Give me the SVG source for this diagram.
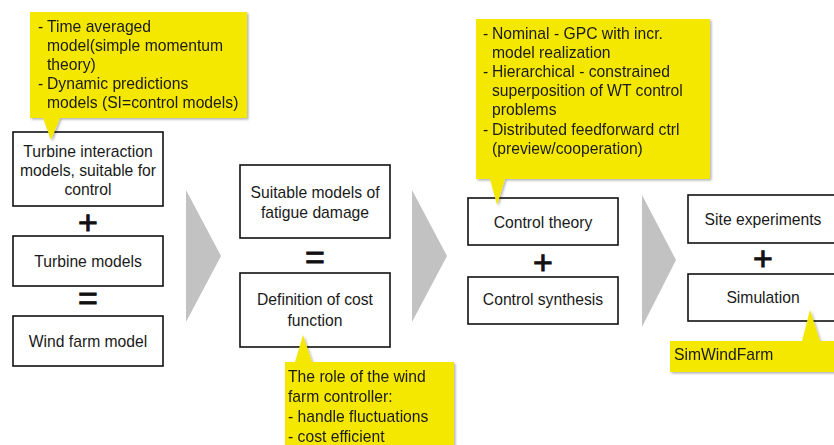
<svg xmlns="http://www.w3.org/2000/svg" width="834" height="445" viewBox="0 0 834 445">
<defs>
<filter id="sh" x="-10%" y="-10%" width="130%" height="130%">
<feDropShadow dx="1.5" dy="1.5" stdDeviation="1.2" flood-color="#000" flood-opacity="0.3"/>
</filter>
<style>
.box{fill:#fff;stroke:#111;stroke-width:1.6}
.t{font-family:"Liberation Sans",Arial,sans-serif;font-size:15.7px;fill:#1a1a1a}
.c{text-anchor:middle}
.op{font-family:"Liberation Sans",Arial,sans-serif;font-size:34px;fill:#111;stroke:#111;stroke-width:0.9;text-anchor:middle}
.y{fill:#F5E800}
.chev{fill:#c2c2c2}
</style>
</defs>
<rect width="834" height="445" fill="#fff"/>

<g id="connectors">
<polygon class="chev" points="186,190 221,256 186,322"/>
<polygon class="chev" points="412,190 447,256 412,322"/>
<polygon class="chev" points="642,195 676,260 642,327"/>
</g>

<g id="n-turbine-interaction">
<rect class="box" x="13" y="132" width="150" height="74"/>
<text class="t c" x="88" y="157">Turbine interaction</text>
<text class="t c" x="88" y="176">models, suitable for</text>
<text class="t c" x="88" y="195">control</text>
</g>
<text class="op" x="88" y="234">+</text>
<g id="n-turbine-models">
<rect class="box" x="13" y="236" width="150" height="50"/>
<text class="t c" x="88" y="267">Turbine models</text>
</g>
<text class="op" x="88" y="310">=</text>
<g id="n-wind-farm-model">
<rect class="box" x="13" y="316" width="150" height="50"/>
<text class="t c" x="88" y="347">Wind farm model</text>
</g>

<g id="n-fatigue">
<rect class="box" x="240" y="165" width="150" height="73"/>
<text class="t c" x="315" y="198">Suitable models of</text>
<text class="t c" x="315" y="218">fatigue damage</text>
</g>
<text class="op" x="315" y="269">=</text>
<g id="n-cost">
<rect class="box" x="240" y="273" width="150" height="74"/>
<text class="t c" x="315" y="305">Definition of cost</text>
<text class="t c" x="315" y="326">function</text>
</g>

<g id="n-control-theory">
<rect class="box" x="468" y="198" width="150" height="47"/>
<text class="t c" x="543" y="228">Control theory</text>
</g>
<text class="op" x="543" y="274">+</text>
<g id="n-control-synthesis">
<rect class="box" x="468" y="277" width="150" height="47"/>
<text class="t c" x="543" y="305">Control synthesis</text>
</g>

<g id="n-site">
<rect class="box" x="688" y="195" width="150" height="48"/>
<text class="t c" x="763" y="225">Site experiments</text>
</g>
<text class="op" x="763" y="270">+</text>
<g id="n-simulation">
<rect class="box" x="688" y="274" width="150" height="47"/>
<text class="t c" x="763" y="303">Simulation</text>
</g>

<g id="callout-models" filter="url(#sh)">
<path class="y" d="M30,12 H247 V118 H60 L51,140 L43,118 H30 Z"/>
<text class="t" x="38" y="32">-</text><text class="t" x="47" y="32">Time averaged</text>
<text class="t" x="47" y="51">model(simple momentum</text>
<text class="t" x="47" y="70">theory)</text>
<text class="t" x="38" y="89">-</text><text class="t" x="47" y="89">Dynamic predictions</text>
<text class="t" x="47" y="108">models (SI=control models)</text>
</g>

<g id="callout-control" filter="url(#sh)">
<path class="y" d="M476,19 H710 V179 H505 L497,205 L490,179 H476 Z"/>
<text class="t" x="483" y="39">-</text><text class="t" x="492" y="39">Nominal - GPC with incr.</text>
<text class="t" x="492" y="58">model realization</text>
<text class="t" x="483" y="77">-</text><text class="t" x="492" y="77">Hierarchical - constrained</text>
<text class="t" x="492" y="96">superposition of WT control</text>
<text class="t" x="492" y="115">problems</text>
<text class="t" x="483" y="135">-</text><text class="t" x="492" y="135">Distributed feedforward ctrl</text>
<text class="t" x="492" y="154">(preview/cooperation)</text>
</g>

<g id="callout-role" filter="url(#sh)">
<path class="y" d="M285,362 H295 L303,335 L312,362 H454 V452 H285 Z"/>
<text class="t" x="288" y="382">The role of the wind</text>
<text class="t" x="288" y="402">farm controller:</text>
<text class="t" x="288" y="422">- handle fluctuations</text>
<text class="t" x="288" y="442">- cost efficient</text>
</g>

<g id="callout-simwindfarm" filter="url(#sh)">
<path class="y" d="M670,341 H802 L810,310 L820,341 H840 V372 H670 Z"/>
<text class="t" x="674" y="360">SimWindFarm</text>
</g>
</svg>
